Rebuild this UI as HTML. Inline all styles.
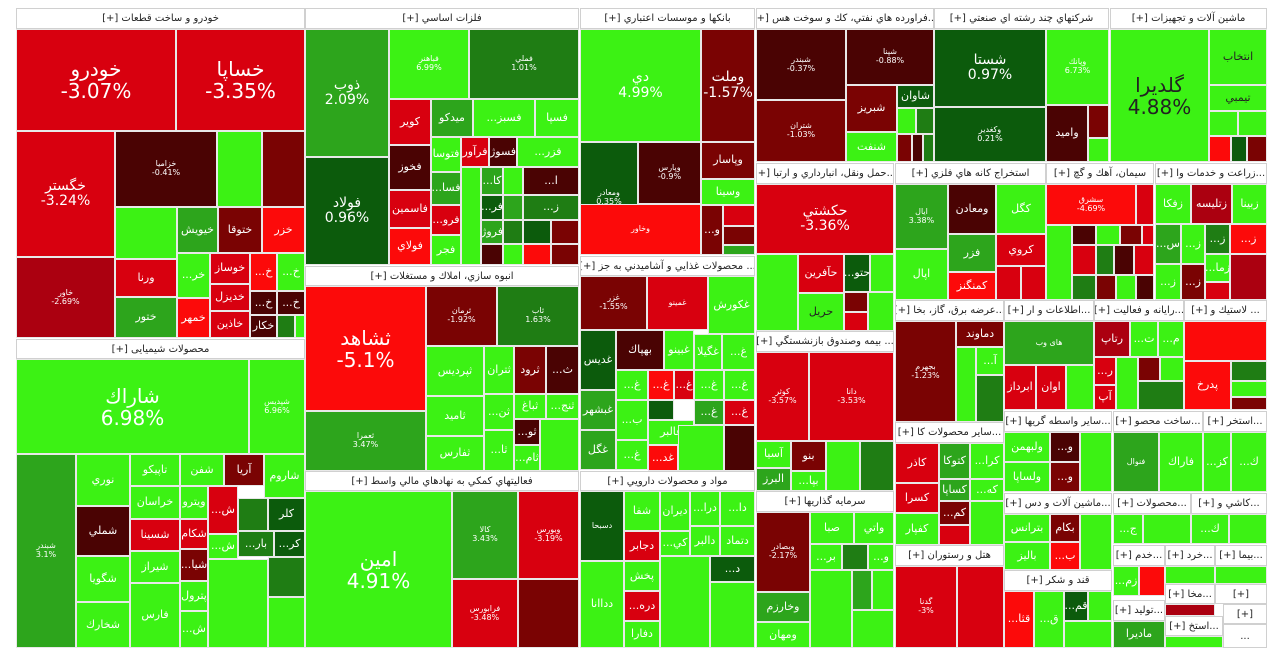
<!DOCTYPE html>
<html><head><meta charset="utf-8">
<style>
*{margin:0;padding:0;box-sizing:border-box}
body{width:1280px;height:661px;background:#fff;position:relative;overflow:hidden;font-family:"DejaVu Sans","Liberation Sans",sans-serif}
div{position:absolute}
.c{border:1px solid #e8e8e8;color:#fff;display:flex;flex-direction:column;align-items:center;justify-content:center;text-align:center;line-height:1.1;font-size:11px;overflow:hidden;direction:ltr}
.h{background:#fff;border:1px solid #d0d0d0;color:#222;font-size:10px;display:flex;align-items:center;justify-content:center;direction:rtl;white-space:nowrap;overflow:hidden}
.g1{background:#3cf214}.g2{background:#2da51c}.g3{background:#0c5b0c}.g4{background:#1f7d14}
.d{background:#4a0303}.r2{background:#7a0303}.r3{background:#ab0010}.r{background:#d8000f}.r1{background:#fc0a0a}
.L{font-size:20px}.M{font-size:14px}.S{font-size:8px}
</style></head><body>

<!-- خودرو -->
<div class="h" style="left:16px;top:8px;width:289px;height:21px">خودرو و ساخت قطعات [+]</div>
<div class="c r L" style="left:16px;top:29px;width:160px;height:102px">خودرو<br>-3.07%</div>
<div class="c r L" style="left:176px;top:29px;width:129px;height:102px">خساپا<br>-3.35%</div>
<div class="c r M" style="left:16px;top:131px;width:99px;height:126px">خگستر<br>-3.24%</div>
<div class="c r3 S" style="left:16px;top:257px;width:99px;height:81px">خاور<br>-2.69%</div>
<div class="c d S" style="left:115px;top:131px;width:102px;height:76px">خزامیا<br>-0.41%</div>
<div class="c g1 S" style="left:217px;top:131px;width:45px;height:76px"></div>
<div class="c r2 S" style="left:262px;top:131px;width:43px;height:76px"></div>
<div class="c g1 S" style="left:115px;top:207px;width:62px;height:52px"></div>
<div class="c g2" style="left:177px;top:207px;width:41px;height:46px">خیویش</div>
<div class="c r2" style="left:218px;top:207px;width:44px;height:46px">ختوقا</div>
<div class="c r1" style="left:262px;top:207px;width:43px;height:46px">خزر</div>
<div class="c r" style="left:115px;top:259px;width:62px;height:38px">ورنا</div>
<div class="c g2" style="left:115px;top:297px;width:62px;height:41px">ختور</div>
<div class="c g1" style="left:177px;top:253px;width:33px;height:45px">...خر</div>
<div class="c r1" style="left:177px;top:298px;width:33px;height:40px">خمهر</div>
<div class="c r" style="left:210px;top:253px;width:40px;height:31px">خوساز</div>
<div class="c r" style="left:210px;top:284px;width:40px;height:27px">خدیزل</div>
<div class="c r" style="left:210px;top:311px;width:40px;height:27px">خاذین</div>
<div class="c r1" style="left:250px;top:253px;width:27px;height:38px">...خ</div>
<div class="c g1" style="left:277px;top:253px;width:28px;height:38px">...خ</div>
<div class="c d" style="left:250px;top:291px;width:27px;height:24px">...خ</div>
<div class="c d" style="left:277px;top:291px;width:28px;height:24px">...خ</div>
<div class="c d" style="left:250px;top:315px;width:27px;height:23px">خکار</div>
<div class="c g4" style="left:277px;top:315px;width:18px;height:23px"></div>
<div class="c g1" style="left:295px;top:315px;width:10px;height:23px"></div>

<!-- شیمیایی -->
<div class="h" style="left:16px;top:339px;width:289px;height:20px">محصولات شیمیایی [+]</div>
<div class="c g1 L" style="left:16px;top:359px;width:233px;height:95px">شاراك<br>6.98%</div>
<div class="c g1 S" style="left:249px;top:359px;width:56px;height:95px">شپدیس<br>6.96%</div>
<div class="c g2 S" style="left:16px;top:454px;width:60px;height:194px">شبندر<br>3.1%</div>
<div class="c g1" style="left:76px;top:454px;width:54px;height:52px">نوري</div>
<div class="c d" style="left:76px;top:506px;width:54px;height:50px">شملي</div>
<div class="c g1" style="left:76px;top:556px;width:54px;height:46px">شگویا</div>
<div class="c g1" style="left:76px;top:602px;width:54px;height:46px">شخارك</div>
<div class="c g1" style="left:130px;top:454px;width:50px;height:32px">تاپيكو</div>
<div class="c g1" style="left:180px;top:454px;width:44px;height:32px">شفن</div>
<div class="c r2" style="left:224px;top:454px;width:40px;height:32px">آريا</div>
<div class="c g1" style="left:264px;top:454px;width:41px;height:44px">شاروم</div>
<div class="c g1" style="left:130px;top:486px;width:50px;height:33px">خراسان</div>
<div class="c g1" style="left:180px;top:486px;width:28px;height:33px">ويترو</div>
<div class="c r" style="left:208px;top:486px;width:30px;height:48px">...ش</div>
<div class="c r" style="left:130px;top:519px;width:50px;height:32px">شسينا</div>
<div class="c g1" style="left:130px;top:551px;width:50px;height:32px">شيراز</div>
<div class="c g1" style="left:130px;top:583px;width:50px;height:65px">فارس</div>
<div class="c r" style="left:180px;top:519px;width:28px;height:30px">شكام</div>
<div class="c r2" style="left:180px;top:549px;width:28px;height:32px">...شيا</div>
<div class="c g1" style="left:180px;top:581px;width:28px;height:30px">پترول</div>
<div class="c g1" style="left:180px;top:611px;width:28px;height:37px">...ش</div>
<div class="c g4" style="left:238px;top:498px;width:30px;height:33px"></div>
<div class="c g3" style="left:268px;top:498px;width:37px;height:33px">كلر</div>
<div class="c g4" style="left:238px;top:531px;width:36px;height:26px">...بار</div>
<div class="c g3" style="left:274px;top:531px;width:31px;height:26px">...كر</div>
<div class="c g1" style="left:208px;top:534px;width:30px;height:25px">...ش</div>
<div class="c g1" style="left:208px;top:559px;width:60px;height:89px"></div>
<div class="c g4" style="left:268px;top:557px;width:37px;height:40px"></div>
<div class="c g1" style="left:268px;top:597px;width:37px;height:51px"></div>

<!-- فلزات -->
<div class="h" style="left:305px;top:8px;width:274px;height:21px">فلزات اساسي [+]</div>
<div class="c g2 M" style="left:305px;top:29px;width:84px;height:128px">ذوب<br>2.09%</div>
<div class="c g3 M" style="left:305px;top:157px;width:84px;height:108px">فولاد<br>0.96%</div>
<div class="c g1 S" style="left:389px;top:29px;width:80px;height:70px">فباهنر<br>6.99%</div>
<div class="c g4 S" style="left:469px;top:29px;width:110px;height:70px">فملي<br>1.01%</div>
<div class="c r" style="left:389px;top:99px;width:42px;height:46px">كوير</div>
<div class="c g2" style="left:431px;top:99px;width:42px;height:38px">ميدكو</div>
<div class="c g1" style="left:473px;top:99px;width:62px;height:38px">...فسبز</div>
<div class="c g1" style="left:535px;top:99px;width:44px;height:38px">فسپا</div>
<div class="c d" style="left:389px;top:145px;width:42px;height:45px">فخوز</div>
<div class="c r" style="left:389px;top:190px;width:42px;height:38px">فاسمين</div>
<div class="c r1" style="left:389px;top:228px;width:42px;height:37px">فولاي</div>
<div class="c g1" style="left:431px;top:137px;width:30px;height:35px">فتوسا</div>
<div class="c r" style="left:461px;top:137px;width:28px;height:30px">فرآور</div>
<div class="c d" style="left:489px;top:137px;width:28px;height:30px">فسوژ</div>
<div class="c g1" style="left:517px;top:137px;width:62px;height:30px">...فزر</div>
<div class="c g2" style="left:431px;top:172px;width:30px;height:33px">...فسا</div>
<div class="c r" style="left:431px;top:205px;width:30px;height:30px">...فرو</div>
<div class="c g1" style="left:431px;top:235px;width:30px;height:30px">فجر</div>
<div class="c g1" style="left:461px;top:167px;width:20px;height:98px"></div>
<div class="c g2" style="left:481px;top:167px;width:22px;height:28px">...كا</div>
<div class="c g1" style="left:503px;top:167px;width:20px;height:28px"></div>
<div class="c d" style="left:523px;top:167px;width:56px;height:28px">...ا</div>
<div class="c g3" style="left:481px;top:195px;width:22px;height:25px">...فر</div>
<div class="c g2" style="left:503px;top:195px;width:20px;height:25px"></div>
<div class="c g4" style="left:523px;top:195px;width:56px;height:25px">...ز</div>
<div class="c g2" style="left:481px;top:220px;width:22px;height:24px">فروژ</div>
<div class="c g4" style="left:503px;top:220px;width:20px;height:24px"></div>
<div class="c g3" style="left:523px;top:220px;width:28px;height:24px"></div>
<div class="c r2" style="left:551px;top:220px;width:28px;height:24px"></div>
<div class="c d" style="left:481px;top:244px;width:22px;height:21px"></div>
<div class="c g1" style="left:503px;top:244px;width:20px;height:21px"></div>
<div class="c r1" style="left:523px;top:244px;width:28px;height:21px"></div>
<div class="c r2" style="left:551px;top:244px;width:28px;height:21px"></div>

<!-- انبوه سازی -->
<div class="h" style="left:305px;top:266px;width:274px;height:20px">انبوه سازي، املاك و مستغلات [+]</div>
<div class="c r1 L" style="left:305px;top:286px;width:121px;height:125px">ثشاهد<br>-5.1%</div>
<div class="c g2 S" style="left:305px;top:411px;width:121px;height:60px">ثعمرا<br>3.47%</div>
<div class="c r2 S" style="left:426px;top:286px;width:71px;height:60px">ثرمان<br>-1.92%</div>
<div class="c g4 S" style="left:497px;top:286px;width:82px;height:60px">ثاب<br>1.63%</div>
<div class="c g1" style="left:426px;top:346px;width:58px;height:50px">ثپرديس</div>
<div class="c g1" style="left:426px;top:396px;width:58px;height:40px">ثاميد</div>
<div class="c g1" style="left:426px;top:436px;width:58px;height:35px">ثفارس</div>
<div class="c g1" style="left:484px;top:346px;width:30px;height:48px">ثتران</div>
<div class="c r2" style="left:514px;top:346px;width:32px;height:48px">ثرود</div>
<div class="c d" style="left:546px;top:346px;width:33px;height:48px">...ث</div>
<div class="c g1" style="left:484px;top:394px;width:30px;height:36px">...ثن</div>
<div class="c g1" style="left:514px;top:394px;width:32px;height:25px">ثباغ</div>
<div class="c g1" style="left:546px;top:394px;width:33px;height:25px">...ثنج</div>
<div class="c g1" style="left:484px;top:430px;width:30px;height:41px">...ثا</div>
<div class="c d" style="left:514px;top:419px;width:26px;height:26px">...ثو</div>
<div class="c g1" style="left:514px;top:445px;width:26px;height:26px">...ثام</div>
<div class="c g1" style="left:540px;top:419px;width:39px;height:52px"></div>

<!-- فعالیتهای کمکی -->
<div class="h" style="left:305px;top:471px;width:274px;height:20px">فعاليتهاي كمكي به نهادهاي مالي واسط [+]</div>
<div class="c g1 L" style="left:305px;top:491px;width:147px;height:157px">امين<br>4.91%</div>
<div class="c g2 S" style="left:452px;top:491px;width:66px;height:88px">كالا<br>3.43%</div>
<div class="c r S" style="left:518px;top:491px;width:61px;height:88px">وبورس<br>-3.19%</div>
<div class="c r S" style="left:452px;top:579px;width:66px;height:69px">فرابورس<br>-3.48%</div>
<div class="c r2" style="left:518px;top:579px;width:61px;height:69px"></div>

<!-- بانکها -->
<div class="h" style="left:580px;top:8px;width:175px;height:21px">بانكها و موسسات اعتباري [+]</div>
<div class="c g1 M" style="left:580px;top:29px;width:121px;height:113px">دي<br>4.99%</div>
<div class="c r2 M" style="left:701px;top:29px;width:54px;height:113px">وملت<br>-1.57%</div>
<div class="c g3 S" style="left:580px;top:142px;width:58px;height:112px">ومعادر<br>0.35%</div>
<div class="c d S" style="left:638px;top:142px;width:63px;height:62px">وپارس<br>-0.9%</div>
<div class="c r2" style="left:701px;top:142px;width:54px;height:37px">وپاسار</div>
<div class="c g1" style="left:701px;top:179px;width:54px;height:26px">وسينا</div>
<div class="c r1 S" style="left:580px;top:204px;width:121px;height:51px">وخاور</div>
<div class="c r2" style="left:701px;top:205px;width:22px;height:50px">...و</div>
<div class="c r" style="left:723px;top:205px;width:32px;height:21px"></div>
<div class="c r2" style="left:723px;top:226px;width:32px;height:19px"></div>
<div class="c g2" style="left:723px;top:245px;width:32px;height:10px"></div>

<!-- غذایی -->
<div class="h" style="left:580px;top:256px;width:175px;height:20px">... محصولات غذايي و آشاميدني به جز [+]</div>
<div class="c r2 S" style="left:580px;top:276px;width:67px;height:54px">غزر<br>-1.55%</div>
<div class="c r S" style="left:647px;top:276px;width:61px;height:54px">غمينو</div>
<div class="c g1" style="left:708px;top:276px;width:47px;height:58px">غكورش</div>
<div class="c g3" style="left:580px;top:330px;width:36px;height:60px">غديس</div>
<div class="c d" style="left:616px;top:330px;width:48px;height:40px">بهپاك</div>
<div class="c g1" style="left:664px;top:330px;width:30px;height:40px">غبينو</div>
<div class="c g1" style="left:694px;top:334px;width:28px;height:36px">غگيلا</div>
<div class="c g1" style="left:722px;top:334px;width:33px;height:36px">...غ</div>
<div class="c g2" style="left:580px;top:390px;width:36px;height:40px">غبشهر</div>
<div class="c g2" style="left:580px;top:430px;width:36px;height:40px">غگل</div>
<div class="c g1" style="left:616px;top:370px;width:32px;height:30px">...غ</div>
<div class="c r1" style="left:648px;top:370px;width:26px;height:30px">...غ</div>
<div class="c r" style="left:674px;top:370px;width:20px;height:30px">...غ</div>
<div class="c g1" style="left:694px;top:370px;width:30px;height:30px">...غ</div>
<div class="c g1" style="left:724px;top:370px;width:31px;height:30px">...غ</div>
<div class="c g1" style="left:616px;top:400px;width:32px;height:40px">...ب</div>
<div class="c g3" style="left:648px;top:400px;width:26px;height:20px"></div>
<div class="c g1" style="left:648px;top:420px;width:46px;height:25px">غالبر</div>
<div class="c g2" style="left:694px;top:400px;width:30px;height:25px">...غ</div>
<div class="c r" style="left:724px;top:400px;width:31px;height:25px">...غ</div>
<div class="c g1" style="left:616px;top:440px;width:32px;height:30px">...غ</div>
<div class="c r1" style="left:648px;top:445px;width:30px;height:26px">...غد</div>
<div class="c g1" style="left:678px;top:425px;width:46px;height:46px"></div>
<div class="c d" style="left:724px;top:425px;width:31px;height:46px"></div>

<!-- دارویی -->
<div class="h" style="left:580px;top:471px;width:175px;height:20px">مواد و محصولات دارويي [+]</div>
<div class="c g3 S" style="left:580px;top:491px;width:44px;height:70px">دسبحا</div>
<div class="c g1" style="left:624px;top:491px;width:36px;height:40px">شفا</div>
<div class="c g1" style="left:660px;top:491px;width:30px;height:40px">ديران</div>
<div class="c g1" style="left:690px;top:491px;width:30px;height:35px">...درا</div>
<div class="c g1" style="left:720px;top:491px;width:35px;height:35px">...دا</div>
<div class="c r" style="left:624px;top:531px;width:36px;height:30px">دجابر</div>
<div class="c g1" style="left:660px;top:531px;width:30px;height:25px">...كي</div>
<div class="c g1" style="left:690px;top:526px;width:30px;height:30px">دالبر</div>
<div class="c g1" style="left:720px;top:526px;width:35px;height:30px">دتماد</div>
<div class="c g1" style="left:580px;top:561px;width:44px;height:87px">دداانا</div>
<div class="c g1" style="left:624px;top:561px;width:36px;height:30px">پخش</div>
<div class="c r" style="left:624px;top:591px;width:36px;height:30px">...دره</div>
<div class="c g1" style="left:624px;top:621px;width:36px;height:27px">دفارا</div>
<div class="c g1" style="left:660px;top:556px;width:50px;height:92px"></div>
<div class="c g3" style="left:710px;top:556px;width:45px;height:26px">...د</div>
<div class="c g1" style="left:710px;top:582px;width:45px;height:66px"></div>

<!-- نفتی -->
<div class="h" style="left:756px;top:8px;width:178px;height:21px">...فراورده هاي نفتي، كك و سوخت هس [+]</div>
<div class="c d S" style="left:756px;top:29px;width:90px;height:71px">شبندر<br>-0.37%</div>
<div class="c d S" style="left:846px;top:29px;width:88px;height:56px">شپنا<br>-0.88%</div>
<div class="c r2 S" style="left:756px;top:100px;width:90px;height:62px">شتران<br>-1.03%</div>
<div class="c r2" style="left:846px;top:85px;width:51px;height:47px">شبريز</div>
<div class="c g3" style="left:897px;top:85px;width:37px;height:23px">شاوان</div>
<div class="c g1" style="left:846px;top:132px;width:51px;height:30px">شنفت</div>
<div class="c g1" style="left:897px;top:108px;width:19px;height:26px"></div>
<div class="c g4" style="left:916px;top:108px;width:18px;height:26px"></div>
<div class="c r2" style="left:897px;top:134px;width:15px;height:28px"></div>
<div class="c d" style="left:912px;top:134px;width:11px;height:28px"></div>
<div class="c g4" style="left:923px;top:134px;width:11px;height:28px"></div>

<!-- چند رشته -->
<div class="h" style="left:934px;top:8px;width:175px;height:21px">شركتهاي چند رشته اي صنعتي [+]</div>
<div class="c g3 M" style="left:934px;top:29px;width:112px;height:78px">شستا<br>0.97%</div>
<div class="c g1 S" style="left:1046px;top:29px;width:63px;height:76px">وپانك<br>6.73%</div>
<div class="c g3 S" style="left:934px;top:107px;width:112px;height:55px">وكغدير<br>0.21%</div>
<div class="c d" style="left:1046px;top:105px;width:42px;height:57px">واميد</div>
<div class="c r2" style="left:1088px;top:105px;width:21px;height:33px"></div>
<div class="c g1" style="left:1088px;top:138px;width:21px;height:24px"></div>

<!-- ماشین -->
<div class="h" style="left:1110px;top:8px;width:157px;height:21px">ماشين آلات و تجهيزات [+]</div>
<div class="c g1 L" style="left:1110px;top:29px;width:99px;height:133px"><span style="color:#222">گلديرا<br>4.88%</span></div>
<div class="c g1" style="left:1209px;top:29px;width:58px;height:56px"><span style="color:#222">انتخاب</span></div>
<div class="c g1" style="left:1209px;top:85px;width:58px;height:26px"><span style="color:#222">تيمبي</span></div>
<div class="c g1" style="left:1209px;top:111px;width:29px;height:25px"></div>
<div class="c g1" style="left:1238px;top:111px;width:29px;height:25px"></div>
<div class="c r1" style="left:1209px;top:136px;width:22px;height:26px"></div>
<div class="c g3" style="left:1231px;top:136px;width:16px;height:26px"></div>
<div class="c r2" style="left:1247px;top:136px;width:20px;height:26px"></div>

<!-- حمل و نقل -->
<div class="h" style="left:756px;top:163px;width:138px;height:21px">...حمل ونقل، انبارداري و ارتبا [+]</div>
<div class="c r M" style="left:756px;top:184px;width:138px;height:70px">حكشتي<br>-3.36%</div>
<div class="c g1 S" style="left:756px;top:254px;width:42px;height:77px"></div>
<div class="c r" style="left:798px;top:254px;width:46px;height:39px">حآفرين</div>
<div class="c g1" style="left:798px;top:293px;width:46px;height:38px"><span style="color:#222">حريل</span></div>
<div class="c g3" style="left:844px;top:254px;width:26px;height:38px">...حتو</div>
<div class="c g1" style="left:870px;top:254px;width:24px;height:38px"></div>
<div class="c r2" style="left:844px;top:292px;width:24px;height:20px"></div>
<div class="c r" style="left:844px;top:312px;width:24px;height:19px"></div>
<div class="c g1" style="left:868px;top:292px;width:26px;height:39px"></div>

<!-- بیمه -->
<div class="h" style="left:756px;top:331px;width:138px;height:21px">... بيمه وصندوق بازنشستگي [+]</div>
<div class="c r S" style="left:756px;top:352px;width:53px;height:89px">كوثر<br>-3.57%</div>
<div class="c r S" style="left:809px;top:352px;width:85px;height:89px">دانا<br>-3.53%</div>
<div class="c g1" style="left:756px;top:441px;width:35px;height:27px">آسيا</div>
<div class="c g2" style="left:756px;top:468px;width:35px;height:23px">البرز</div>
<div class="c r2" style="left:791px;top:441px;width:35px;height:30px">بنو</div>
<div class="c g1" style="left:791px;top:471px;width:35px;height:20px">...بپا</div>
<div class="c g1" style="left:826px;top:441px;width:34px;height:50px"></div>
<div class="c g4" style="left:860px;top:441px;width:34px;height:50px"></div>

<!-- سرمایه گذاری -->
<div class="h" style="left:756px;top:491px;width:138px;height:21px">سرمايه گذاريها [+]</div>
<div class="c r2 S" style="left:756px;top:512px;width:54px;height:80px">وبصادر<br>-2.17%</div>
<div class="c g1" style="left:810px;top:512px;width:44px;height:32px">صبا</div>
<div class="c g1" style="left:854px;top:512px;width:40px;height:32px">واتي</div>
<div class="c g1" style="left:810px;top:544px;width:32px;height:26px">...بر</div>
<div class="c g4" style="left:842px;top:544px;width:26px;height:26px"></div>
<div class="c g1" style="left:868px;top:544px;width:26px;height:26px">...و</div>
<div class="c g2" style="left:756px;top:592px;width:54px;height:30px">وخارزم</div>
<div class="c g1" style="left:756px;top:622px;width:54px;height:26px">ومهان</div>
<div class="c g1" style="left:810px;top:570px;width:42px;height:78px"></div>
<div class="c g2" style="left:852px;top:570px;width:20px;height:40px"></div>
<div class="c g1" style="left:872px;top:570px;width:22px;height:40px"></div>
<div class="c g1" style="left:852px;top:610px;width:42px;height:38px"></div>

<!-- استخراج -->
<div class="h" style="left:895px;top:163px;width:151px;height:21px">استخراج كانه هاي فلزي [+]</div>
<div class="c g2 S" style="left:895px;top:184px;width:53px;height:65px">ايال<br>3.38%</div>
<div class="c g1" style="left:895px;top:249px;width:53px;height:51px">اپال</div>
<div class="c d" style="left:948px;top:184px;width:48px;height:50px">ومعادن</div>
<div class="c g1" style="left:996px;top:184px;width:50px;height:50px">كگل</div>
<div class="c g2" style="left:948px;top:234px;width:48px;height:38px">فزر</div>
<div class="c r" style="left:996px;top:234px;width:50px;height:32px">كروي</div>
<div class="c r1" style="left:948px;top:272px;width:48px;height:28px">كمنگنز</div>
<div class="c r" style="left:996px;top:266px;width:25px;height:34px"></div>
<div class="c r" style="left:1021px;top:266px;width:25px;height:34px"></div>

<!-- سیمان -->
<div class="h" style="left:1046px;top:163px;width:108px;height:21px">سيمان، آهك و گچ [+]</div>
<div class="c r1 S" style="left:1046px;top:184px;width:90px;height:41px">سشرق<br>-4.69%</div>
<div class="c r" style="left:1136px;top:184px;width:18px;height:41px"></div>
<div class="c g1" style="left:1046px;top:225px;width:26px;height:75px"></div>
<div class="c d" style="left:1072px;top:225px;width:24px;height:20px"></div>
<div class="c g1" style="left:1096px;top:225px;width:24px;height:20px"></div>
<div class="c r2" style="left:1120px;top:225px;width:22px;height:20px"></div>
<div class="c r" style="left:1142px;top:225px;width:12px;height:20px"></div>
<div class="c r" style="left:1072px;top:245px;width:24px;height:30px"></div>
<div class="c g4" style="left:1096px;top:245px;width:18px;height:30px"></div>
<div class="c d" style="left:1114px;top:245px;width:20px;height:30px"></div>
<div class="c r" style="left:1134px;top:245px;width:20px;height:30px"></div>
<div class="c g4" style="left:1072px;top:275px;width:24px;height:25px"></div>
<div class="c r2" style="left:1096px;top:275px;width:20px;height:25px"></div>
<div class="c g1" style="left:1116px;top:275px;width:20px;height:25px"></div>
<div class="c d" style="left:1136px;top:275px;width:18px;height:25px"></div>

<!-- زراعت -->
<div class="h" style="left:1155px;top:163px;width:112px;height:21px">...زراعت و خدمات وا [+]</div>
<div class="c g1" style="left:1155px;top:184px;width:36px;height:40px">زفكا</div>
<div class="c r3" style="left:1191px;top:184px;width:41px;height:40px">زتليسه</div>
<div class="c g1" style="left:1232px;top:184px;width:35px;height:40px">زبينا</div>
<div class="c g2" style="left:1155px;top:224px;width:26px;height:40px">...س</div>
<div class="c g1" style="left:1181px;top:224px;width:24px;height:40px">...ز</div>
<div class="c g4" style="left:1205px;top:224px;width:25px;height:30px">...ز</div>
<div class="c r1" style="left:1230px;top:224px;width:37px;height:30px">...ز</div>
<div class="c g1" style="left:1155px;top:264px;width:26px;height:36px">...ز</div>
<div class="c r2" style="left:1181px;top:264px;width:24px;height:36px">...ز</div>
<div class="c g1" style="left:1205px;top:254px;width:25px;height:28px">...زما</div>
<div class="c r" style="left:1205px;top:282px;width:25px;height:18px"></div>
<div class="c r3" style="left:1230px;top:254px;width:37px;height:46px"></div>

<!-- برق -->
<div class="h" style="left:895px;top:300px;width:109px;height:21px">...عرضه برق، گاز، بخا [+]</div>
<div class="c r2 S" style="left:895px;top:321px;width:61px;height:101px">بجهرم<br>-1.23%</div>
<div class="c r2" style="left:956px;top:321px;width:48px;height:26px">دماوند</div>
<div class="c g1" style="left:956px;top:347px;width:20px;height:75px"></div>
<div class="c g1" style="left:976px;top:347px;width:28px;height:28px">...آ</div>
<div class="c g4" style="left:976px;top:375px;width:28px;height:47px"></div>

<!-- اطلاعات -->
<div class="h" style="left:1004px;top:300px;width:90px;height:21px">...اطلاعات و ار [+]</div>
<div class="c g2 S" style="left:1004px;top:321px;width:90px;height:44px">های وب</div>
<div class="c r" style="left:1004px;top:365px;width:32px;height:45px">ابرداز</div>
<div class="c r" style="left:1036px;top:365px;width:30px;height:45px">اوان</div>
<div class="c g1" style="left:1066px;top:365px;width:28px;height:45px"></div>

<!-- رایانه -->
<div class="h" style="left:1094px;top:300px;width:90px;height:21px">...رايانه و فعاليت [+]</div>
<div class="c r3" style="left:1094px;top:321px;width:36px;height:36px">رتاپ</div>
<div class="c g1" style="left:1130px;top:321px;width:28px;height:36px">...ت</div>
<div class="c g1" style="left:1158px;top:321px;width:26px;height:36px">...م</div>
<div class="c r" style="left:1094px;top:357px;width:22px;height:28px">...ر</div>
<div class="c r" style="left:1094px;top:385px;width:22px;height:25px">آپ</div>
<div class="c g1" style="left:1116px;top:357px;width:22px;height:53px"></div>
<div class="c r2" style="left:1138px;top:357px;width:22px;height:24px"></div>
<div class="c g1" style="left:1160px;top:357px;width:24px;height:24px"></div>
<div class="c g4" style="left:1138px;top:381px;width:46px;height:29px"></div>

<!-- لاستیک -->
<div class="h" style="left:1184px;top:300px;width:83px;height:21px">... لاستيك و [+]</div>
<div class="c r1" style="left:1184px;top:321px;width:83px;height:40px"></div>
<div class="c r1" style="left:1184px;top:361px;width:47px;height:49px">پدرخ</div>
<div class="c g4" style="left:1231px;top:361px;width:36px;height:20px"></div>
<div class="c g1" style="left:1231px;top:381px;width:36px;height:16px"></div>
<div class="c r2" style="left:1231px;top:397px;width:36px;height:13px"></div>

<!-- سایر محصولات کانی -->
<div class="h" style="left:895px;top:422px;width:109px;height:21px">...سایر محصولات كا [+]</div>
<div class="c r" style="left:895px;top:443px;width:44px;height:40px">كاذر</div>
<div class="c g2" style="left:939px;top:443px;width:31px;height:36px">كتوكا</div>
<div class="c g1" style="left:970px;top:443px;width:34px;height:36px">...كرا</div>
<div class="c r" style="left:895px;top:483px;width:44px;height:30px">كسرا</div>
<div class="c g2" style="left:939px;top:479px;width:31px;height:22px">كساپا</div>
<div class="c g1" style="left:970px;top:479px;width:34px;height:22px">...كه</div>
<div class="c r2" style="left:939px;top:501px;width:31px;height:24px">...كم</div>
<div class="c g1" style="left:895px;top:513px;width:44px;height:32px">كفپار</div>
<div class="c g1" style="left:970px;top:501px;width:34px;height:44px"></div>
<div class="c r" style="left:939px;top:525px;width:31px;height:20px"></div>

<!-- هتل -->
<div class="h" style="left:895px;top:545px;width:109px;height:21px">هتل و رستوران [+]</div>
<div class="c r S" style="left:895px;top:566px;width:62px;height:82px">گدنا<br>-3%</div>
<div class="c r S" style="left:957px;top:566px;width:47px;height:82px"></div>

<!-- سایر واسطه گری -->
<div class="h" style="left:1004px;top:411px;width:108px;height:21px">...سایر واسطه گريها [+]</div>
<div class="c g1" style="left:1004px;top:432px;width:46px;height:30px">ولبهمن</div>
<div class="c g1" style="left:1004px;top:462px;width:46px;height:30px">ولساپا</div>
<div class="c d" style="left:1050px;top:432px;width:30px;height:30px">...و</div>
<div class="c r2" style="left:1050px;top:462px;width:30px;height:30px">...و</div>
<div class="c g1" style="left:1080px;top:432px;width:32px;height:60px"></div>

<!-- ساخت محصو -->
<div class="h" style="left:1113px;top:411px;width:90px;height:21px">...ساخت محصو [+]</div>
<div class="c g2 S" style="left:1113px;top:432px;width:46px;height:60px">فنوال</div>
<div class="c g1" style="left:1159px;top:432px;width:44px;height:60px">فاراك</div>

<!-- استخر -->
<div class="h" style="left:1203px;top:411px;width:64px;height:21px">...استخر [+]</div>
<div class="c g1" style="left:1203px;top:432px;width:28px;height:60px">...كز</div>
<div class="c g1" style="left:1231px;top:432px;width:36px;height:60px">...ك</div>

<!-- ماشین آلات و دس -->
<div class="h" style="left:1004px;top:493px;width:108px;height:21px">...ماشين آلات و دس [+]</div>
<div class="c g1" style="left:1004px;top:514px;width:46px;height:28px">بترانس</div>
<div class="c g1" style="left:1004px;top:542px;width:46px;height:28px">باليز</div>
<div class="c r2" style="left:1050px;top:514px;width:30px;height:28px">بكام</div>
<div class="c r1" style="left:1050px;top:542px;width:30px;height:28px">...ب</div>
<div class="c g1" style="left:1080px;top:514px;width:32px;height:56px"></div>

<!-- محصولات -->
<div class="h" style="left:1113px;top:493px;width:78px;height:21px">...محصولات [+]</div>
<div class="c g1" style="left:1113px;top:514px;width:30px;height:30px">...ج</div>
<div class="c g1" style="left:1143px;top:514px;width:48px;height:30px"></div>
<div class="h" style="left:1191px;top:493px;width:76px;height:21px">...كاشي و [+]</div>
<div class="c g1" style="left:1191px;top:514px;width:38px;height:30px">...ك</div>
<div class="c g1" style="left:1229px;top:514px;width:38px;height:30px"></div>

<!-- قند -->
<div class="h" style="left:1004px;top:570px;width:108px;height:21px">قند و شكر [+]</div>
<div class="c r1" style="left:1004px;top:591px;width:30px;height:57px">...قثا</div>
<div class="c g1" style="left:1034px;top:591px;width:30px;height:57px">...ق</div>
<div class="c g3" style="left:1064px;top:591px;width:24px;height:30px">...قم</div>
<div class="c g1" style="left:1088px;top:591px;width:24px;height:30px"></div>
<div class="c g1" style="left:1064px;top:621px;width:48px;height:27px"></div>

<!-- small ones -->
<div class="h" style="left:1113px;top:545px;width:52px;height:21px">...خدم [+]</div>
<div class="c g1" style="left:1113px;top:566px;width:26px;height:30px">...زم</div>
<div class="c r1" style="left:1139px;top:566px;width:26px;height:30px"></div>
<div class="h" style="left:1165px;top:545px;width:50px;height:21px">...خرد [+]</div>
<div class="c g1" style="left:1165px;top:566px;width:50px;height:18px"></div>
<div class="h" style="left:1215px;top:545px;width:52px;height:21px">...بيما [+]</div>
<div class="c g1" style="left:1215px;top:566px;width:52px;height:18px"></div>
<div class="h" style="left:1165px;top:584px;width:50px;height:20px">...مخا [+]</div>
<div class="c r3" style="left:1165px;top:604px;width:50px;height:12px"></div>
<div class="h" style="left:1215px;top:584px;width:52px;height:20px">[+]</div>
<div class="h" style="left:1113px;top:600px;width:52px;height:21px">...توليد [+]</div>
<div class="c g2" style="left:1113px;top:621px;width:52px;height:27px">مادیرا</div>
<div class="h" style="left:1165px;top:616px;width:58px;height:20px">...استخ [+]</div>
<div class="c g1" style="left:1165px;top:636px;width:58px;height:12px"></div>
<div class="h" style="left:1223px;top:604px;width:44px;height:20px">[+]</div>
<div class="h" style="left:1223px;top:624px;width:44px;height:24px">...</div>
</body></html>
